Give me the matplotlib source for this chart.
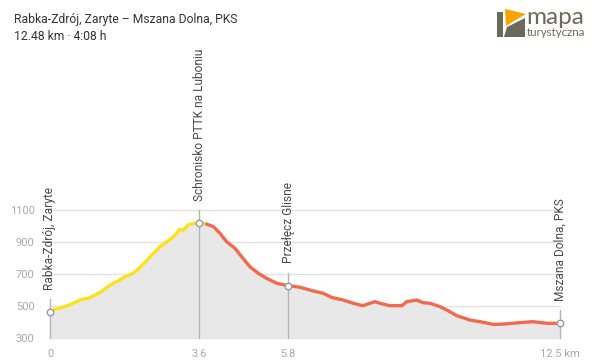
import matplotlib
matplotlib.use('Agg')
import matplotlib.pyplot as plt
from matplotlib.patches import Polygon, Rectangle

plt.rcParams['font.family'] = ['Roboto', 'DejaVu Sans']

# elevation profile (km, m), uphill part and downhill part
up_km = [0.00, 0.12, 0.41, 0.57, 0.78, 0.94, 1.10, 1.26, 1.47, 1.67, 1.84, 2.00,
         2.12, 2.32, 2.53, 2.69, 2.86, 2.98, 3.10, 3.16, 3.25, 3.38, 3.51, 3.65, 3.83]
up_m = [464, 479, 500, 517, 542, 548, 569, 590, 631, 658, 683, 700,
        721, 771, 829, 871, 902, 923, 954, 979, 971, 1006, 1017, 1017, 1012]
down_km = [3.83, 4.00, 4.16, 4.32, 4.53, 4.69, 4.89, 5.10, 5.30, 5.55, 5.83, 6.12,
           6.44, 6.69, 6.89, 7.18, 7.42, 7.65, 7.83, 7.95, 8.07, 8.32, 8.61, 8.73,
           8.97, 9.13, 9.30, 9.54, 9.74, 9.95, 10.28, 10.52, 10.85, 11.09, 11.50,
           11.82, 12.15, 12.48]
down_m = [1012, 996, 954, 902, 860, 808, 746, 704, 673, 642, 627, 617,
          594, 579, 554, 537, 517, 502, 517, 527, 517, 502, 502, 527,
          537, 521, 517, 496, 471, 440, 412, 402, 385, 387, 396,
          402, 392, 392]

# waypoints
wp_km = [0.0, 3.65, 5.83, 12.48]
wp_m = [464, 1017, 627, 392]
wp_names = ['Rabka-Zdrój, Zaryte', 'Schronisko PTTK na Luboniu',
            'Przełęcz Glisne', 'Mszana Dolna, PKS']
xtick_labels = ['0', '3.6', '5.8', '12.5 km']
yticks = [300, 500, 700, 900, 1100]

fig = plt.figure(figsize=(6, 3.62), dpi=100)
ax = fig.add_axes([50 / 600, 24 / 362, 510 / 600, 128 / 362])
ax.set_xlim(0, 12.48)
ax.set_ylim(300, 1100)

for y in yticks:
    ax.axhline(y, color='#e3e3e3', lw=1, zorder=0, clip_on=False)

all_km = up_km + down_km[1:]
all_m = up_m + down_m[1:]
ax.fill_between(all_km, all_m, 300, color='#e8e8e8', lw=0, zorder=1)

# waypoint guide lines
for k, m in zip(wp_km, wp_m):
    ax.plot([k, k], [300, m + 82], color='#b5b5b5', lw=1, zorder=2, clip_on=False)

ax.plot(up_km, up_m, color='#fbe21b', lw=2.4, zorder=3, clip_on=False,
        solid_capstyle='round')
ax.plot(down_km, down_m, color='#f26a4d', lw=2.4, zorder=3, clip_on=False,
        solid_capstyle='round')

ax.scatter(wp_km, wp_m, s=22, facecolor='white', edgecolor='#999999',
           lw=1, zorder=4, clip_on=False)

for k, m, name in zip(wp_km, wp_m, wp_names):
    ax.annotate(name, (k, m), xytext=(0, 16), textcoords='offset points',
                rotation=90, ha='center', va='bottom', fontsize=8.6,
                color='#4a4a4a', annotation_clip=False)

ax.set_xticks(wp_km)
ax.set_xticklabels(xtick_labels)
ax.set_yticks(yticks)
ax.tick_params(length=0, colors='#aaaaaa', labelsize=8, pad=8)
ax.tick_params(axis='y', pad=11)
for s in ax.spines.values():
    s.set_visible(False)
ax.set_facecolor('none')

# header
fig.text(14 / 600, 1 - 19 / 362, 'Rabka-Zdrój, Zaryte – Mszana Dolna, PKS',
         fontsize=8.7, color='#333333', va='center')
fig.text(14 / 600, 1 - 37 / 362, '12.48 km · 4:08 h',
         fontsize=8.7, color='#333333', va='center')

# logo
W, H = 600, 362
def px(x, y):
    return (x / W, 1 - y / H)

gray = '#6b6a5a'
fig.patches.append(Rectangle(px(497, 37), 6 / W, 25 / H, color=gray,
                             transform=fig.transFigure, lw=0))
fig.patches.append(Polygon([px(504, 37), px(507, 27), px(525, 18), px(525, 37)],
                           closed=True, color=gray, transform=fig.transFigure, lw=0))
fig.patches.append(Polygon([px(505, 9), px(526, 14), px(514, 21), px(506, 26)],
                           closed=True, color='#f7a400', transform=fig.transFigure, lw=0))
fig.text(526 / W, 1 - 17 / H, 'mapa', fontsize=17.5, color=gray, va='center',
         family='Lato')
fig.text(527 / W, 1 - 32 / H, 'turystyczna', fontsize=8.3, color=gray,
         va='center', family='Lato')

fig.savefig('out.png', dpi=100)
